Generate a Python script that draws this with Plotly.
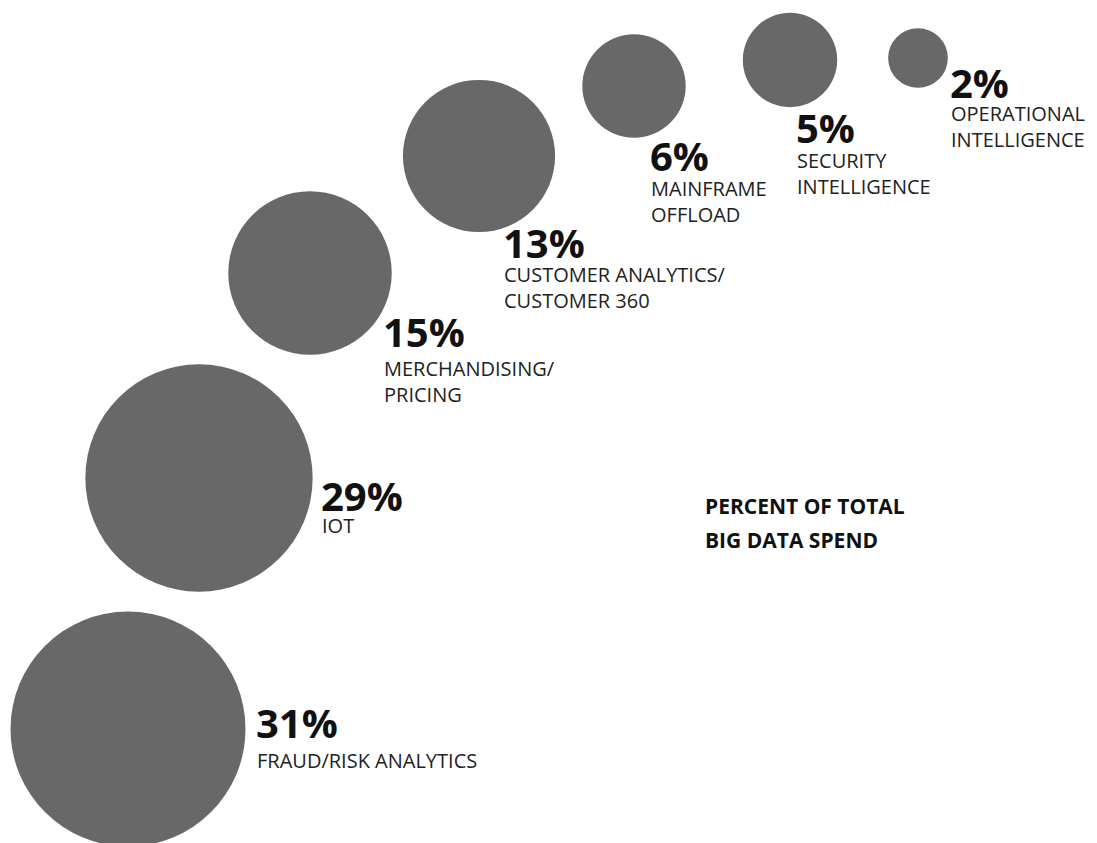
import math
import plotly.graph_objects as go

# Share of total big data spend by use case
use_cases = [
    "FRAUD/RISK ANALYTICS",
    "IOT",
    "MERCHANDISING/<br>PRICING",
    "CUSTOMER ANALYTICS/<br>CUSTOMER 360",
    "MAINFRAME<br>OFFLOAD",
    "SECURITY<br>INTELLIGENCE",
    "OPERATIONAL<br>INTELLIGENCE",
]
percent = [31, 29, 15, 13, 6, 5, 2]

# Layout: bubble centres (page pixels) along the rising arc
centre_x = [128, 199, 310, 479, 634, 790, 918]
centre_y = [729, 478, 273, 156, 86, 60, 58]
# value/label blocks: left edge, middle of the percent line, middle of first name line
label_x = [254, 319, 381, 501, 648, 794, 948]
value_y = [722, 495, 331, 242, 155, 127, 82]
name_y = [760, 525, 368, 274, 188, 160, 113]

W, H = 1097, 843
MAX_DIAMETER = 235  # pixel diameter of the largest bubble
BUBBLE = "#686868"

# bubble area proportional to the share
diameters = [MAX_DIAMETER * math.sqrt(v / max(percent)) for v in percent]

fig = go.Figure(
    go.Scatter(
        x=centre_x,
        y=centre_y,
        mode="markers",
        marker=dict(size=diameters, sizemode="diameter", color=BUBBLE,
                    line=dict(width=0), opacity=1),
        hoverinfo="skip",
        showlegend=False,
    )
)

VALUE_SIZE = 40
NAME_SIZE = 20
annotations = []
for v, name, lx, vy, ny in zip(percent, use_cases, label_x, value_y, name_y):
    annotations.append(dict(
        x=lx, y=vy, xref="x", yref="y", xanchor="left", yanchor="middle",
        text=f"<b>{v}%</b>", showarrow=False,
        font=dict(family="Open Sans", size=VALUE_SIZE, color="#111111"),
    ))
    annotations.append(dict(
        x=lx + 1, y=ny - 0.75 * NAME_SIZE, xref="x", yref="y",
        xanchor="left", yanchor="top",
        text=name, showarrow=False, align="left",
        font=dict(family="Open Sans", size=NAME_SIZE, color="#222222"),
    ))

for line, ty in (("PERCENT OF TOTAL", 506), ("BIG DATA SPEND", 540)):
    annotations.append(dict(
        x=703, y=ty, xref="x", yref="y", xanchor="left", yanchor="middle",
        text=f"<b>{line}</b>", showarrow=False,
        font=dict(family="Open Sans", size=21, color="#111111"),
    ))

fig.update_layout(
    width=W, height=H, autosize=False,
    margin=dict(l=0, r=0, t=0, b=0),
    paper_bgcolor="white", plot_bgcolor="white",
    xaxis=dict(range=[0, W], visible=False, fixedrange=True),
    yaxis=dict(range=[H, 0], visible=False, fixedrange=True),
    annotations=annotations,
)

fig.write_html("out.html")
